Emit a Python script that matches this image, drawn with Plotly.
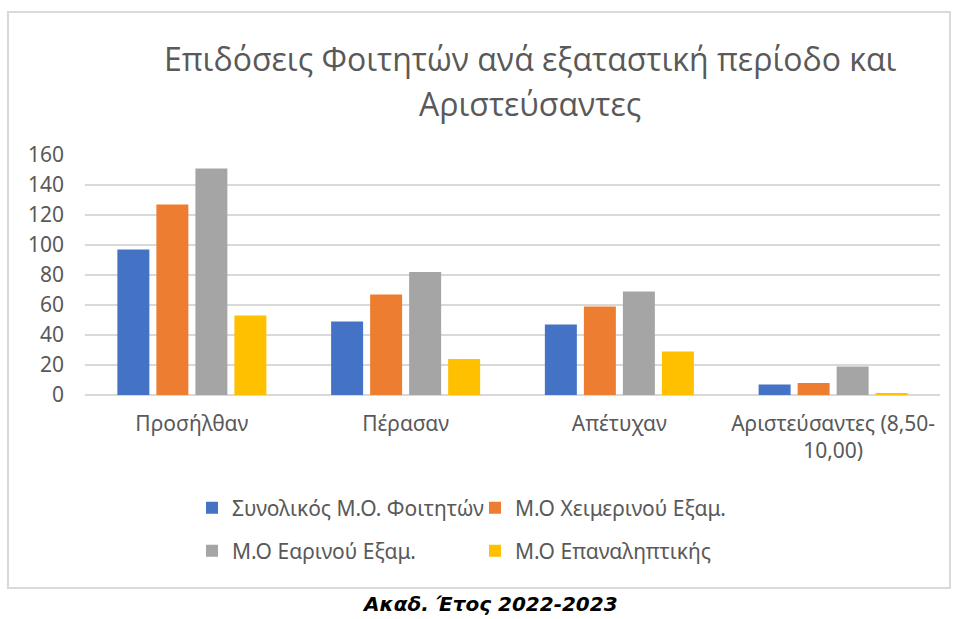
import plotly.graph_objects as go

categories = ["Προσήλθαν", "Πέρασαν", "Απέτυχαν", "Αριστεύσαντες (8,50-<br>10,00)"]
series_names = ["Συνολικός Μ.Ο. Φοιτητών", "Μ.Ο Χειμερινού Εξαμ.", "Μ.Ο Εαρινού Εξαμ.", "Μ.Ο Επαναληπτικής"]
total_avg = [97, 49, 47, 7]
winter_avg = [127, 67, 59, 8]
spring_avg = [151, 82, 69, 19]
resit_avg = [53, 24, 29, 1]
y_ticks = [0, 20, 40, 60, 80, 100, 120, 140, 160]
title_lines = ["Επιδόσεις Φοιτητών ανά εξαταστική περίοδο και", "Αριστεύσαντες"]
caption = "Ακαδ. Έτος 2022-2023"

colors = ["#4472C4", "#ED7D31", "#A5A5A5", "#FFC000"]
W, H = 957, 619
L, R, T, B = 85, 940, 155, 395  # plot area in pixels
FONT = "Noto Sans"
TXT = "#595959"


def px(x):
    return (x - L) / (R - L)


def py(y):
    return (B - y) / (B - T)


fig = go.Figure()
values = [total_avg, winter_avg, spring_avg, resit_avg]
legend_ids = ["legend", "legend", "legend2", "legend2"]
for name, vals, col, lg in zip(series_names, values, colors, legend_ids):
    fig.add_trace(go.Bar(x=categories, y=vals, name=name, marker=dict(color=col, line=dict(width=0)),
                         legend=lg))

legend_common = dict(orientation="h", xanchor="left", yanchor="middle", entrywidth=238,
                     entrywidthmode="pixels", font=dict(family=FONT, size=21, color=TXT),
                     bgcolor="rgba(0,0,0,0)", itemclick=False, traceorder="normal")

fig.update_layout(
    width=W, height=H,
    margin=dict(l=L, r=W - R, t=T, b=H - B, autoexpand=False),
    paper_bgcolor="white", plot_bgcolor="white",
    barmode="group", bargap=0.27, bargroupgap=0.18,
    showlegend=True,
    legend=dict(x=px(192), y=py(508), **legend_common),
    legend2=dict(x=px(192), y=py(551), **legend_common),
    xaxis=dict(showgrid=False, showline=False, zeroline=False, ticks="",
               tickfont=dict(family=FONT, size=21, color=TXT), ticklabelstandoff=14,
               fixedrange=True),
    yaxis=dict(range=[0, 160], tickvals=y_ticks, showgrid=True, gridcolor="#D9D9D9", gridwidth=2,
               zeroline=True, zerolinecolor="#D9D9D9", zerolinewidth=2, showline=False, ticks="",
               tickfont=dict(family=FONT, size=21, color=TXT), ticklabelstandoff=20,
               fixedrange=True),
    shapes=[dict(type="rect", xref="paper", yref="paper", x0=px(8), x1=px(950), y0=py(588), y1=py(12),
                 line=dict(color="#D9D9D9", width=2), fillcolor="rgba(0,0,0,0)", layer="below")],
    annotations=[
        dict(text=title_lines[0], xref="paper", yref="paper", x=px(530), y=py(58), xanchor="center",
             yanchor="middle", showarrow=False, font=dict(family="Open Sans", size=32, color=TXT)),
        dict(text=title_lines[1], xref="paper", yref="paper", x=px(530), y=py(103), xanchor="center",
             yanchor="middle", showarrow=False, font=dict(family="Open Sans", size=32, color=TXT)),
        dict(text="<b><i>" + caption + "</i></b>", xref="paper", yref="paper", x=px(490), y=py(604),
             xanchor="center", yanchor="middle", showarrow=False, borderpad=0,
             font=dict(family="DejaVu Sans", size=20, color="black")),
    ],
)

fig.write_html("out.html", config={"displayModeBar": False},
               post_script="document.body.style.margin='0px';document.body.style.overflow='hidden';")
